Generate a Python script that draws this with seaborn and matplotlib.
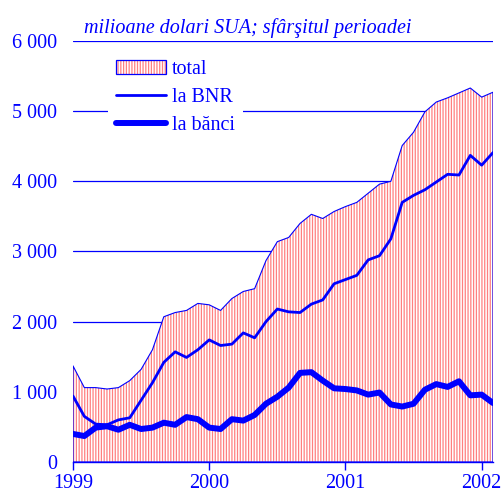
import matplotlib
matplotlib.use("Agg")
import matplotlib.pyplot as plt
import seaborn as sns
import pandas as pd
from matplotlib.patches import Patch
from matplotlib.lines import Line2D

# monthly data, Jan 1999 .. Feb 2002 (mil. USD, end of period)
total = [1370, 1060, 1060, 1040, 1060, 1160, 1320, 1600, 2070, 2130, 2160, 2260,
         2240, 2160, 2330, 2430, 2470, 2870, 3140, 3200, 3400, 3530, 3470, 3570,
         3640, 3700, 3830, 3960, 4000, 4510, 4700, 4990, 5130, 5190, 5260, 5330,
         5200, 5270]
bnr = [940, 650, 540, 530, 600, 630, 880, 1130, 1420, 1570, 1490, 1600,
       1740, 1660, 1680, 1840, 1770, 2000, 2180, 2140, 2130, 2250, 2310, 2540,
       2600, 2660, 2880, 2940, 3180, 3700, 3800, 3880, 3990, 4100, 4090, 4370,
       4230, 4410]
banci = [400, 370, 490, 510, 460, 530, 470, 490, 560, 530, 640, 610,
         490, 470, 610, 590, 670, 830, 930, 1060, 1270, 1280, 1160, 1050,
         1040, 1020, 960, 990, 820, 790, 830, 1030, 1110, 1070, 1150, 950,
         960, 840]
year_labels = ["1999", "2000", "2001", "2002"]
year_pos = [0, 12, 24, 36]
yticks = [0, 1000, 2000, 3000, 4000, 5000, 6000]
ytick_labels = ["0", "1 000", "2 000", "3 000", "4 000", "5 000", "6 000"]
labels = ["total", "la BNR", "la b\u0103nci"]
title = "milioane dolari SUA; sf\u00e2r\u015fitul perioadei"

months = list(range(len(total)))
df = pd.DataFrame({"m": months, "total": total, "bnr": bnr, "banci": banci})

sns.set_style("white")
plt.rcParams["font.family"] = ["Liberation Serif", "DejaVu Serif"]
plt.rcParams["hatch.linewidth"] = 0.9

BLUE = "#0000ff"
RED = "#ff8080"

fig = plt.figure(figsize=(5.02, 4.94), dpi=100)
ax = fig.add_axes([0.1454, 0.0648, 0.9821 - 0.1454, 0.917 - 0.0648])

# gridlines
for v in yticks[1:]:
    ax.axhline(v, color=BLUE, lw=0.9, zorder=0)

# hatched area
ax.fill_between(df["m"], 0, df["total"], facecolor="white", edgecolor=RED,
                hatch="||||||", linewidth=0, zorder=1)
ax.fill_between(df["m"], 0, df["total"], facecolor="none", edgecolor=BLUE,
                linewidth=0.8, zorder=2)

sns.lineplot(data=df, x="m", y="bnr", ax=ax, color=BLUE, lw=2.0, zorder=3,
             solid_joinstyle="round", solid_capstyle="round")
sns.lineplot(data=df, x="m", y="banci", ax=ax, color=BLUE, lw=4.3, zorder=4,
             solid_joinstyle="round", solid_capstyle="round")

ax.set_xlim(0, len(total) - 1)
ax.set_ylim(0, 6000)
ax.set_xticks(year_pos)
ax.set_xticklabels(year_labels)
ax.set_yticks(yticks)
ax.set_yticklabels(ytick_labels)
ax.set_xlabel("")
ax.set_ylabel("")
ax.tick_params(axis="y", length=0, pad=11.5, labelsize=14.5, labelcolor=BLUE)
ax.tick_params(axis="x", direction="out", length=6, width=1, color=BLUE,
               pad=2.5, labelsize=14.5, labelcolor=BLUE, bottom=True)
for s in ["left", "right", "top"]:
    ax.spines[s].set_visible(False)
ax.spines["bottom"].set_color(BLUE)
ax.spines["bottom"].set_linewidth(1.0)
ax.spines["bottom"].set_zorder(5)

fig.text(0.168, 0.944, title, color=BLUE, fontsize=14.5, style="italic",
         ha="left", va="center")

h_total = (Patch(facecolor="white", edgecolor=RED, hatch="||||||", lw=0),
           Patch(facecolor="none", edgecolor=BLUE, lw=0.9))
h_bnr = Line2D([], [], color=BLUE, lw=2.0)
h_banci = Line2D([], [], color=BLUE, lw=4.3, solid_capstyle="round")
leg = ax.legend([h_total, h_bnr, h_banci], labels, loc="upper left",
                bbox_to_anchor=(0.083, 0.975), frameon=True, fancybox=False,
                fontsize=14.5, handlelength=2.5, handletextpad=0.3,
                labelspacing=0.45, borderpad=0.4, borderaxespad=0)
leg.get_frame().set_facecolor("white")
leg.get_frame().set_edgecolor("none")
leg.get_frame().set_alpha(1)
leg.set_zorder(6)
for t in leg.get_texts():
    t.set_color(BLUE)

fig.savefig("out.png", dpi=100)
